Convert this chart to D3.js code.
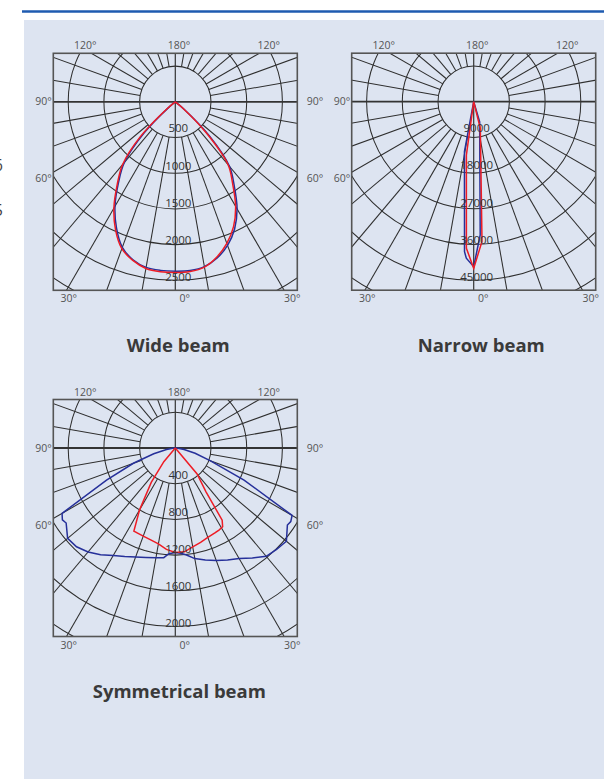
<!DOCTYPE html>
<html>
<head>
<meta charset="utf-8">
<script src="https://cdn.jsdelivr.net/npm/d3@7"></script>
<style>
  body { margin: 0; background: #fff; }
  svg { display: block; font-family: 'Open Sans', 'Noto Sans', sans-serif; }
</style>
</head>
<body>
<svg id="chart"></svg>
<script>
// polar intensity curves, [gamma in degrees (negative = left half), cd]
const wideC0 = [[-55,0],[-50,100],[-45,620],[-40,1110],[-35,1390],[-30,1690],[-25,1950],[-20,2170],[-15,2290],[-10,2355],[-5,2370],[0,2372],
  [5,2372],[10,2345],[15,2265],[20,2140],[25,1965],[30,1730],[35,1440],[40,1180],[45,680],[50,150],[55,0]];
const wideC90 = [[-55,0],[-50,150],[-45,700],[-40,1150],[-35,1420],[-30,1720],[-25,1980],[-20,2190],[-15,2300],[-10,2370],[-5,2388],[0,2390],
  [5,2385],[10,2350],[15,2250],[20,2110],[25,1930],[30,1690],[35,1400],[40,1150],[45,600],[50,120],[55,0]];

const narrowC0 = [[-12,0],[-10.5,12800],[-3.5,37900],[-2.7,39500],[0,41600],[2.8,33600],[16.5,5300],[20,0]];
const narrowC90 = [[-10,0],[-7.8,13600],[-2.85,37000],[0,42000],[3.4,35300],[14,6900],[17,0]];

const symC0 = [[-90,0],[-85,30],[-80,100],[-75,250],[-70,500],[-65,850],[-60,1465],[-57.5,1500],[-55.5,1484],[-50,1575],[-45,1565],
  [-40,1520],[-35,1460],[-30,1390],[-25,1340],[-20,1300],[-15,1270],[-10,1250],[-6,1236],[-3.5,1186],[0,1172],[3,1180],[6,1205],
  [10,1258],[15,1300],[20,1340],[25,1385],[30,1430],[35,1505],[40,1585],[45,1605],[50,1625],[55.5,1524],[57.5,1534],[60,1511],
  [65,850],[70,420],[75,230],[80,100],[85,30],[90,0]];
const symC90 = [[-45,0],[-40,200],[-35,470],[-30,800],[-26.5,1040],[-20,1050],[-15,1065],[-10,1090],[-5,1140],[0,1170],
  [5,1168],[10,1125],[15,1095],[20,1065],[25,1050],[28,1042],[31,1030],[33,964],[35,600],[40,380],[45,0]];

const wideRings = [500, 1000, 1500, 2000, 2500];
const narrowRings = [9000, 18000, 27000, 36000, 45000];
const symRings = [400, 800, 1200, 1600, 2000];

const topTicks = ['120°', '180°', '120°'];
const sideTicks = ['90°', '60°'];
const bottomTicks = ['30°', '0°', '30°'];

const width = 604;
const height = 779;
const ringPx = 35.7;
const boxW = 244, boxH = 237;
const cxOff = 122, cyOff = 48.5;

const svg = d3.select('#chart').attr('width', width).attr('height', height);

svg.append('rect').attr('width', width).attr('height', height).attr('fill', '#fff');
svg.append('rect')
  .attr('x', 24).attr('y', 20)
  .attr('width', width - 24).attr('height', height - 20)
  .attr('fill', '#dde4f1');
svg.append('line')
  .attr('x1', 22).attr('x2', width)
  .attr('y1', 11.5).attr('y2', 11.5)
  .attr('stroke', '#1f5bb0').attr('stroke-width', 2.5);

// cut-off text at the left margin
svg.append('text').attr('x', 3).attr('y', 171).attr('text-anchor', 'end')
  .style('font-size', '16px').attr('fill', '#444').text('6');
svg.append('text').attr('x', 3).attr('y', 216).attr('text-anchor', 'end')
  .style('font-size', '16px').attr('fill', '#444').text('5');

const rad = (a) => a * Math.PI / 180;

const drawPolar = (id, x0, y0, rings, c0, c90, title, titleDx, titleY, rightTicks) => {
  const cx = x0 + cxOff;
  const cy = y0 + cyOff;
  const step = rings[0];
  const rScale = d3.scaleLinear().domain([0, step]).range([0, ringPx]);

  const g = svg.append('g').attr('id', id);
  g.append('clipPath').attr('id', 'clip-' + id)
    .append('rect').attr('x', x0).attr('y', y0).attr('width', boxW).attr('height', boxH);

  const grid = g.append('g').attr('clip-path', `url(#clip-${id})`);

  grid.selectAll('circle')
    .data(d3.range(1, 8))
    .join('circle')
    .attr('cx', cx).attr('cy', cy)
    .attr('r', (k) => rScale(k * step))
    .attr('fill', 'none')
    .attr('stroke', '#2e2e2e').attr('stroke-width', 1.05);

  const spokes = d3.range(0, 360, 10).filter((a) => a % 90 !== 0);
  grid.selectAll('line.spoke')
    .data(spokes)
    .join('line')
    .attr('class', 'spoke')
    .attr('x1', (a) => cx + rScale(step) * Math.sin(rad(a)))
    .attr('y1', (a) => cy + rScale(step) * Math.cos(rad(a)))
    .attr('x2', (a) => cx + rScale(step * 10) * Math.sin(rad(a)))
    .attr('y2', (a) => cy + rScale(step * 10) * Math.cos(rad(a)))
    .attr('stroke', '#2e2e2e').attr('stroke-width', 1.05);

  grid.append('line')
    .attr('x1', x0).attr('x2', x0 + boxW).attr('y1', cy).attr('y2', cy)
    .attr('stroke', '#333').attr('stroke-width', 1.8);
  grid.append('line')
    .attr('x1', cx).attr('x2', cx).attr('y1', y0).attr('y2', y0 + boxH)
    .attr('stroke', '#333').attr('stroke-width', 1.2);

  const line = d3.lineRadial()
    .angle((d) => Math.PI - rad(d[0]))
    .radius((d) => rScale(d[1]))
    .curve(id === 'wide' ? d3.curveCatmullRom.alpha(0.5) : d3.curveLinear);

  const curves = g.append('g').attr('transform', `translate(${cx},${cy})`);
  curves.append('path').datum(c0).attr('d', line)
    .attr('fill', 'none').attr('stroke', '#26309a').attr('stroke-width', 1.5);
  curves.append('path').datum(c90).attr('d', line)
    .attr('fill', 'none').attr('stroke', '#ee1c25').attr('stroke-width', 1.5);

  g.append('rect')
    .attr('x', x0).attr('y', y0).attr('width', boxW).attr('height', boxH)
    .attr('fill', 'none').attr('stroke', '#555').attr('stroke-width', 1.6);

  // intensity labels along the nadir axis
  g.selectAll('text.ring')
    .data(rings)
    .join('text')
    .attr('class', 'ring')
    .attr('x', cx + 3)
    .attr('y', (v) => cy + rScale(v) * 1.04 - 6.5)
    .attr('text-anchor', 'middle')
    .style('font-size', '11.5px')
    .attr('fill', '#333')
    .text((v) => v);

  const tickStyle = (sel) => sel.style('font-size', '10.5px').attr('fill', '#555');

  const topX = [cx - 90, cx + 3.6, cx + 93.5];
  g.selectAll('text.top')
    .data(topTicks)
    .join('text')
    .attr('class', 'top')
    .attr('x', (d, i) => topX[i])
    .attr('y', y0 - 4)
    .attr('text-anchor', 'middle')
    .call(tickStyle)
    .text((d) => d);

  const sideY = [cy + 3.5, cy + 80.5];
  g.selectAll('text.left')
    .data(sideTicks)
    .join('text')
    .attr('class', 'left')
    .attr('x', x0 - 1.5)
    .attr('y', (d, i) => sideY[i])
    .attr('text-anchor', 'end')
    .call(tickStyle)
    .text((d) => d);
  if (rightTicks) {
    g.selectAll('text.right')
      .data(sideTicks)
      .join('text')
      .attr('class', 'right')
      .attr('x', x0 + boxW + 9.5)
      .attr('y', (d, i) => sideY[i])
      .attr('text-anchor', 'start')
      .call(tickStyle)
      .text((d) => d);
  }

  const bottomX = [cx - 106.5, cx + 9.5, cx + 117];
  g.selectAll('text.bottom')
    .data(bottomTicks)
    .join('text')
    .attr('class', 'bottom')
    .attr('x', (d, i) => bottomX[i])
    .attr('y', y0 + boxH + 12)
    .attr('text-anchor', 'middle')
    .call(tickStyle)
    .text((d) => d);

  g.append('text')
    .attr('x', cx + titleDx)
    .attr('y', titleY)
    .attr('text-anchor', 'middle')
    .style('font-size', '18.5px')
    .style('font-weight', 'bold')
    .attr('fill', '#3a3a3a')
    .text(title);
};

drawPolar('wide', 53.3, 53.3, wideRings, wideC0, wideC90, 'Wide beam', 3, 352, true);
// the right-hand angle labels of this one fall past the page edge
drawPolar('narrow', 351.7, 53.2, narrowRings, narrowC0, narrowC90, 'Narrow beam', 7.5, 352, false);
drawPolar('sym', 53.3, 399.5, symRings, symC0, symC90, 'Symmetrical beam', 4, 698, true);
</script>
</body>
</html>
